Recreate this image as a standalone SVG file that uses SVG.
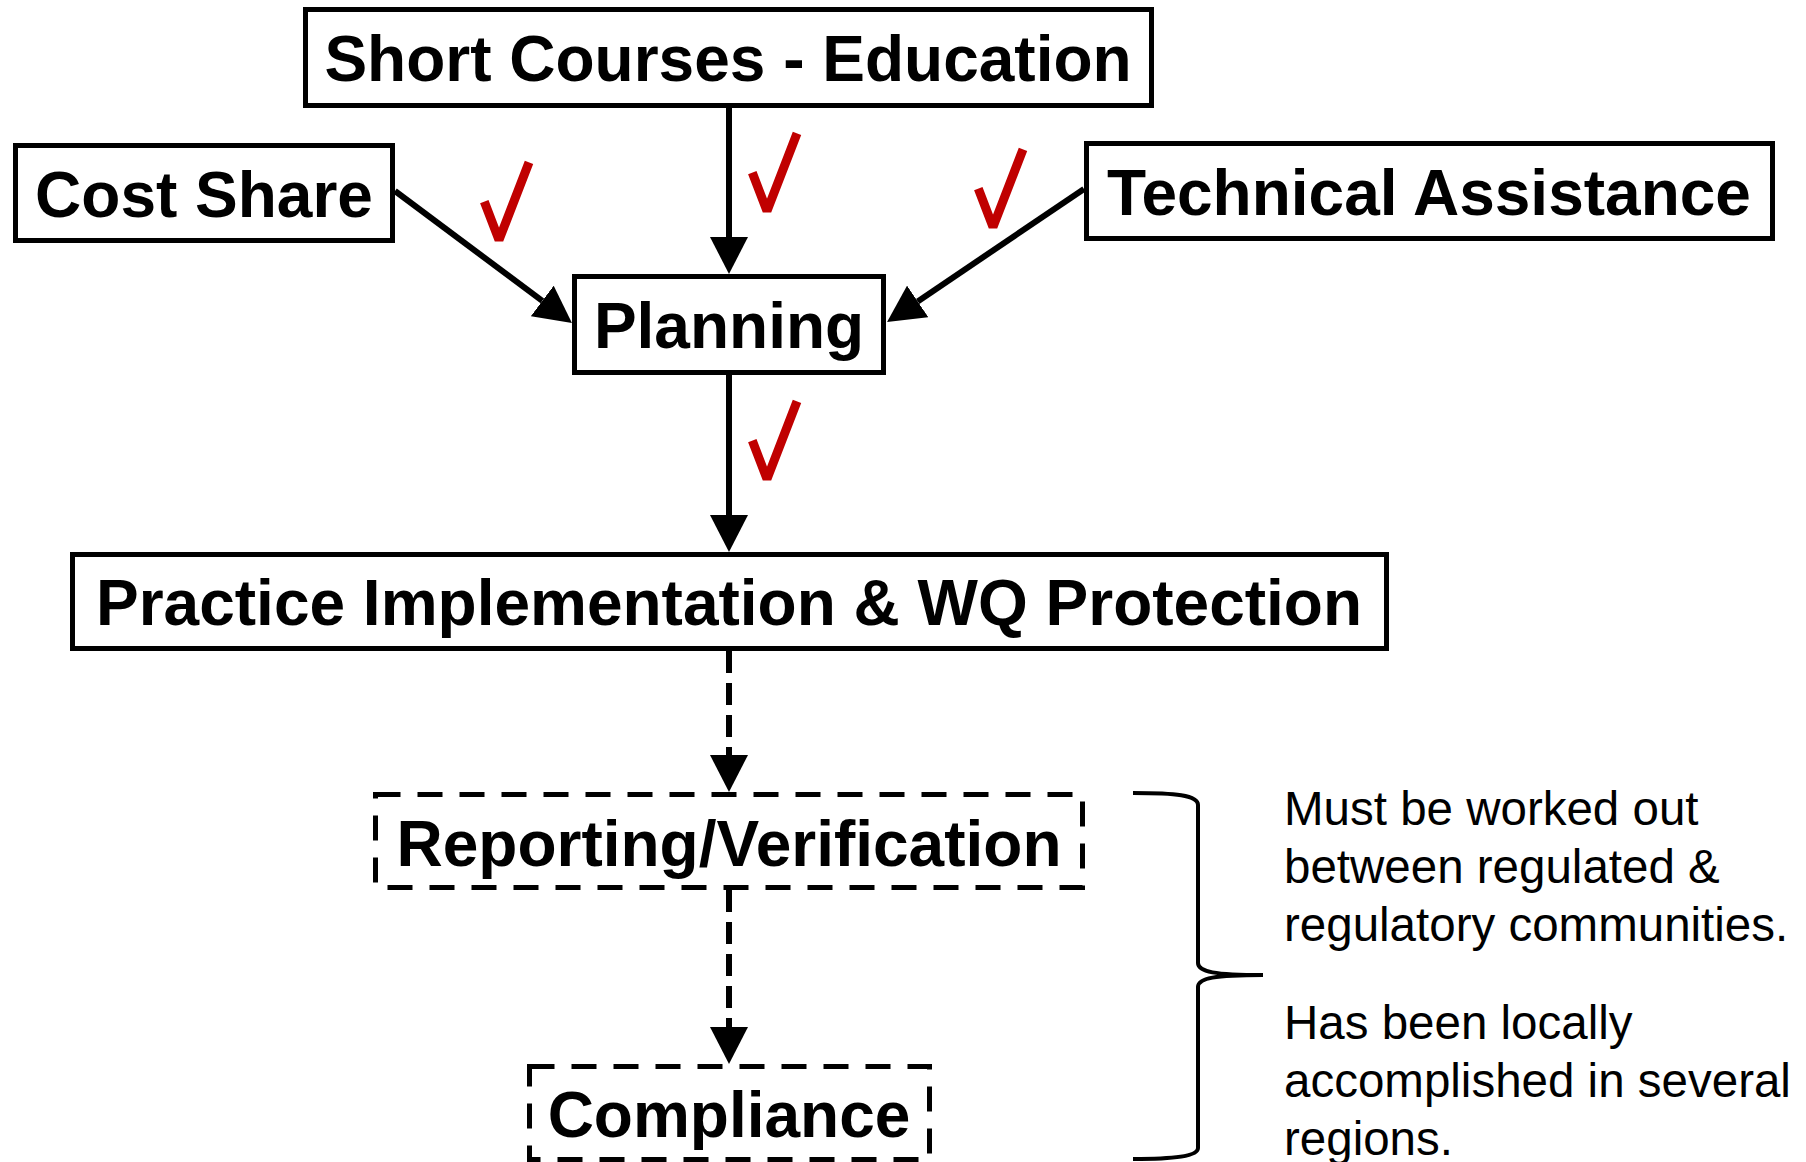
<svg xmlns="http://www.w3.org/2000/svg" width="1806" height="1162" viewBox="0 0 1806 1162">
  <style>
    .box { fill: #ffffff; stroke: #000000; stroke-width: 5; }
    .dashed { stroke-dasharray: 25 17; }
    .label { font-family: "Liberation Sans", Arial, sans-serif; font-weight: bold; font-size: 64px; text-anchor: middle; fill: #000000; }
    .note { font-family: "Liberation Sans", Arial, sans-serif; font-size: 47.5px; fill: #000000; }
    .edge { fill: none; stroke: #000000; stroke-width: 6; }
    .edge-dashed { stroke-dasharray: 22 10; }
    .check { fill: none; stroke: #C00000; stroke-width: 9; stroke-linejoin: bevel; }
    .brace { fill: none; stroke: #000000; stroke-width: 4; }
  </style>
  <defs>
    <marker id="arrow" markerUnits="userSpaceOnUse" markerWidth="38" markerHeight="38" viewBox="0 0 38 38" refX="0" refY="19" orient="auto">
      <path d="M0,0 L37,19 L0,38 Z" fill="#000000"/>
    </marker>
  </defs>
  <rect width="1806" height="1162" fill="#ffffff"/>

  <!-- connectors -->
  <g id="connectors">
    <path class="edge" d="M729,108 L729,237" marker-end="url(#arrow)"/>
    <path class="edge" d="M395,191 L542.3,300.9" marker-end="url(#arrow)"/>
    <path class="edge" d="M1084,189 L917.7,301.4" marker-end="url(#arrow)"/>
    <path class="edge" d="M729,375 L729,515" marker-end="url(#arrow)"/>
    <path class="edge edge-dashed" d="M729,651 L729,755" marker-end="url(#arrow)"/>
    <path class="edge edge-dashed" d="M729,890 L729,1027" marker-end="url(#arrow)"/>
  </g>

  <!-- check marks on the input links -->
  <g id="checks">
    <path class="check" d="M484.3,201.7 L499,240 L529,162.3"/>
    <path class="check" d="M752.3,172.7 L767,211 L797,133.3"/>
    <path class="check" d="M978.3,188.7 L993,227 L1023,149.3"/>
    <path class="check" d="M752.3,440.7 L767,479 L797,401.3"/>
  </g>

  <g id="short-courses">
    <rect class="box" x="305.5" y="9.5" width="846" height="96"/>
    <text class="label" x="728" y="81">Short Courses - Education</text>
  </g>
  <g id="cost-share">
    <rect class="box" x="15.5" y="145.5" width="377" height="95"/>
    <text class="label" x="204" y="217">Cost Share</text>
  </g>
  <g id="technical-assistance">
    <rect class="box" x="1086.5" y="143.5" width="686" height="95"/>
    <text class="label" x="1429" y="215">Technical Assistance</text>
  </g>
  <g id="planning">
    <rect class="box" x="574.5" y="276.5" width="309" height="96"/>
    <text class="label" x="729" y="348">Planning</text>
  </g>
  <g id="practice-implementation">
    <rect class="box" x="72.5" y="554.5" width="1314" height="94"/>
    <text class="label" x="729" y="625">Practice Implementation &amp; WQ Protection</text>
  </g>
  <g id="reporting-verification">
    <rect class="box dashed" x="375.5" y="794.5" width="707" height="93"/>
    <text class="label" x="729" y="866">Reporting/Verification</text>
  </g>
  <g id="compliance">
    <rect class="box dashed" x="529.5" y="1066.5" width="400" height="93"/>
    <text class="label" x="729" y="1137">Compliance</text>
  </g>

  <!-- brace and side notes -->
  <g id="notes">
    <path class="brace" d="M1133,793 C1175,793 1198,795 1198,805 L1198,963 C1198,972 1215,975 1263,975 C1215,975 1198,978 1198,987 L1198,1148 C1198,1156 1175,1159 1133,1159"/>
    <text class="note" x="1284" y="825">Must be worked out</text>
    <text class="note" x="1284" y="883">between regulated &amp;</text>
    <text class="note" x="1284" y="941">regulatory communities.</text>
    <text class="note" x="1284" y="1039">Has been locally</text>
    <text class="note" x="1284" y="1097">accomplished in several</text>
    <text class="note" x="1284" y="1155">regions.</text>
  </g>
</svg>
